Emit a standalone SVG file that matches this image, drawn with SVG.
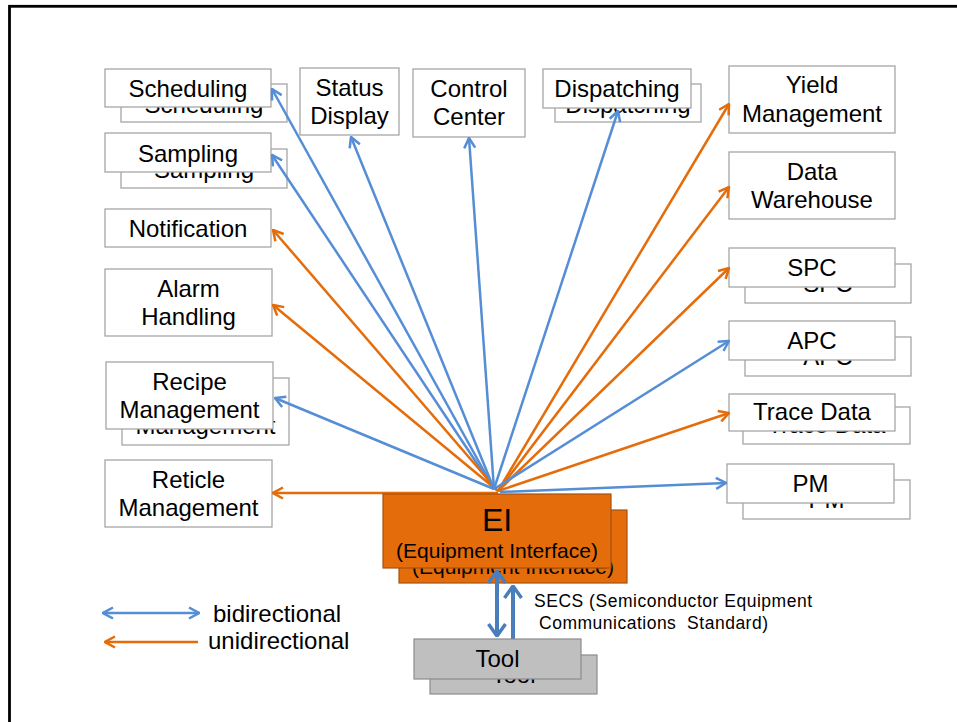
<svg xmlns="http://www.w3.org/2000/svg" width="957" height="722" viewBox="0 0 957 722">
<style>
.box{fill:#fff;stroke:#A6A6A6;stroke-width:1.3}
.t{font-family:"Liberation Sans",Arial,sans-serif;font-size:24px;fill:#000;text-anchor:middle}
.b{fill:none;stroke:#558ED5;stroke-width:2.5}
.o{fill:none;stroke:#E46C0A;stroke-width:2.5}
.ei{fill:#E46C0A;stroke:#A65310;stroke-width:1.2}
.tool{fill:#BFBFBF;stroke:#8C8C8C;stroke-width:1.2}
.thick{fill:none;stroke:#4A7EBB;stroke-width:4}
.lg{font-family:"Liberation Sans",Arial,sans-serif;font-size:24px;fill:#000}
.secs{font-family:"Liberation Sans",Arial,sans-serif;font-size:17.5px;fill:#000}
</style>
<defs>
<marker id="ab" viewBox="0 0 12 14" refX="11" refY="7" markerWidth="12" markerHeight="14" markerUnits="userSpaceOnUse" orient="auto-start-reverse"><path d="M1,1.5 L11,7 L1,12.5" fill="none" stroke="#558ED5" stroke-width="2.5"/></marker>
<marker id="ao" viewBox="0 0 12 14" refX="11" refY="7" markerWidth="12" markerHeight="14" markerUnits="userSpaceOnUse" orient="auto-start-reverse"><path d="M1,1.5 L11,7 L1,12.5" fill="none" stroke="#E46C0A" stroke-width="2.5"/></marker>
<marker id="at" viewBox="0 0 14 20" refX="13" refY="10" markerWidth="14" markerHeight="20" markerUnits="userSpaceOnUse" orient="auto-start-reverse"><path d="M1,1.5 L13,10 L1,18.5" fill="none" stroke="#4A7EBB" stroke-width="3.5"/></marker>
</defs>
<rect x="9.5" y="6.3" width="1000" height="1000" fill="none" stroke="#000" stroke-width="2.8"/>

<g id="scheduling">
<rect class="box" x="121" y="84" width="166" height="38"/><text class="t" x="204" y="113">Scheduling</text>
<rect class="box" x="105" y="69" width="166" height="38"/><text class="t" x="188" y="97">Scheduling</text>
</g>
<g id="sampling">
<rect class="box" x="121" y="149" width="166" height="39"/><text class="t" x="204" y="178">Sampling</text>
<rect class="box" x="105" y="133" width="166" height="39"/><text class="t" x="188" y="162">Sampling</text>
</g>
<g id="notification">
<rect class="box" x="105" y="209" width="166" height="38"/><text class="t" x="188" y="237">Notification</text>
</g>
<g id="alarm">
<rect class="box" x="105" y="269" width="167" height="67"/><text class="t" x="188.5" y="297">Alarm</text><text class="t" x="188.5" y="325">Handling</text>
</g>
<g id="recipe">
<rect class="box" x="122" y="378" width="167" height="67"/><text class="t" x="205.5" y="406">Recipe</text><text class="t" x="205.5" y="434">Management</text>
<rect class="box" x="106" y="362" width="167" height="67"/><text class="t" x="189.5" y="390">Recipe</text><text class="t" x="189.5" y="418">Management</text>
</g>
<g id="reticle">
<rect class="box" x="105" y="460" width="167" height="67"/><text class="t" x="188.5" y="488">Reticle</text><text class="t" x="188.5" y="516">Management</text>
</g>
<g id="status">
<rect class="box" x="300" y="68" width="99" height="67"/><text class="t" x="349.5" y="96">Status</text><text class="t" x="349.5" y="124">Display</text>
</g>
<g id="control">
<rect class="box" x="413" y="69" width="112" height="68"/><text class="t" x="469" y="97">Control</text><text class="t" x="469" y="125">Center</text>
</g>
<g id="dispatching">
<rect class="box" x="555" y="84" width="146" height="38"/><text class="t" x="628" y="113">Dispatching</text>
<rect class="box" x="543" y="69" width="148" height="39"/><text class="t" x="617" y="97">Dispatching</text>
</g>
<g id="yield">
<rect class="box" x="729" y="66" width="166" height="67"/><text class="t" x="812" y="93">Yield</text><text class="t" x="812" y="122">Management</text>
</g>
<g id="warehouse">
<rect class="box" x="729" y="152" width="166" height="67"/><text class="t" x="812" y="180">Data</text><text class="t" x="812" y="208">Warehouse</text>
</g>
<g id="spc">
<rect class="box" x="745" y="264" width="166" height="39"/><text class="t" x="828" y="292">SPC</text>
<rect class="box" x="729" y="248" width="166" height="39"/><text class="t" x="812" y="276">SPC</text>
</g>
<g id="apc">
<rect class="box" x="745" y="337" width="166" height="39"/><text class="t" x="828" y="365">APC</text>
<rect class="box" x="729" y="321" width="166" height="39"/><text class="t" x="812" y="349">APC</text>
</g>
<g id="trace">
<rect class="box" x="743" y="407" width="167" height="37"/><text class="t" x="826.5" y="433">Trace Data</text>
<rect class="box" x="729" y="394" width="166" height="37"/><text class="t" x="812" y="420">Trace Data</text>
</g>
<g id="pm">
<rect class="box" x="743" y="480" width="167" height="39"/><text class="t" x="826.5" y="508">PM</text>
<rect class="box" x="727" y="464" width="167" height="39"/><text class="t" x="810.5" y="492">PM</text>
</g>

<g id="connectors">
<line class="o" x1="498" y1="493" x2="273" y2="493" marker-end="url(#ao)"/>
<line class="b" x1="494" y1="489" x2="272" y2="89" marker-end="url(#ab)"/>
<line class="b" x1="494" y1="489" x2="272" y2="155" marker-end="url(#ab)"/>
<line class="o" x1="498" y1="491" x2="273" y2="230" marker-end="url(#ao)"/>
<line class="o" x1="498" y1="491" x2="273" y2="305" marker-end="url(#ao)"/>
<line class="b" x1="494" y1="489" x2="275" y2="398" marker-end="url(#ab)"/>
<line class="b" x1="494" y1="489" x2="351" y2="137" marker-end="url(#ab)"/>
<line class="b" x1="494" y1="489" x2="469" y2="138" marker-end="url(#ab)"/>
<line class="b" x1="494" y1="489" x2="618" y2="111" marker-end="url(#ab)"/>
<line class="o" x1="498" y1="491" x2="729" y2="104" marker-end="url(#ao)"/>
<line class="o" x1="498" y1="491" x2="729" y2="187" marker-end="url(#ao)"/>
<line class="o" x1="498" y1="491" x2="729" y2="268" marker-end="url(#ao)"/>
<line class="b" x1="494" y1="489" x2="729" y2="341" marker-end="url(#ab)"/>
<line class="o" x1="498" y1="491" x2="729" y2="413" marker-end="url(#ao)"/>
<line class="b" x1="500" y1="492" x2="726" y2="483" marker-end="url(#ab)"/>
<line class="b" x1="103" y1="613" x2="199" y2="613" marker-start="url(#ab)" marker-end="url(#ab)"/>
<line class="o" x1="198" y1="642" x2="105" y2="642" marker-end="url(#ao)"/>
</g>

<g id="ei">
<rect class="ei" x="399" y="510" width="228" height="73"/>
<text class="t" x="513" y="574" style="font-size:21px">(Equipment Interface)</text>
<rect class="ei" x="383" y="494" width="228" height="74"/>
<text class="t" x="497" y="531" style="font-size:32px">EI</text>
<text class="t" x="497" y="558" style="font-size:21px">(Equipment Interface)</text>
</g>
<g id="ei-tool-links">
<line class="thick" x1="497" y1="571" x2="497" y2="636" marker-start="url(#at)" marker-end="url(#at)"/>
<line class="thick" x1="513" y1="639" x2="513" y2="586" marker-end="url(#at)"/>
</g>
<g id="tool">
<rect class="tool" x="430" y="655" width="167" height="39"/><text class="t" x="513.5" y="683">Tool</text>
<rect class="tool" x="414" y="639" width="167" height="40"/><text class="t" x="497.5" y="667">Tool</text>
</g>
<g id="secs-label">
<text class="secs" x="534" y="607" textLength="278" lengthAdjust="spacing">SECS (Semiconductor Equipment</text>
<text class="secs" x="539" y="629" textLength="229" lengthAdjust="spacing">Communications&#160; Standard)</text>
</g>
<g id="legend">
<text class="lg" x="213" y="622">bidirectional</text>
<text class="lg" x="208" y="649">unidirectional</text>
</g>
</svg>
